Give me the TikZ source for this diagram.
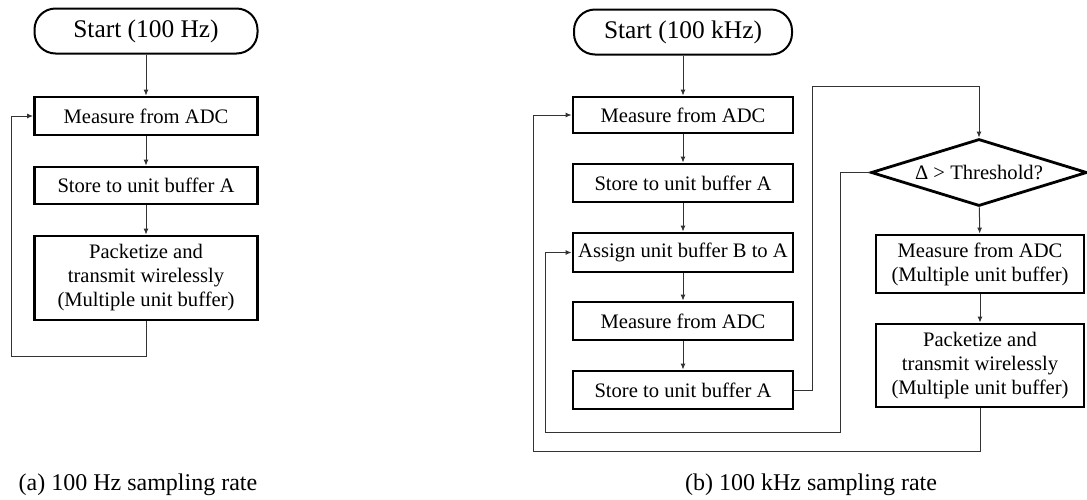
\documentclass[tikz,border=0pt]{standalone}
\usepackage{fontspec}
\setmainfont{Liberation Serif}
\usetikzlibrary{shapes.geometric,arrows.meta}

\tikzset{
  term/.style={draw, line width=2pt, rounded corners=21pt, minimum height=45pt,
    inner sep=0pt, font=\fontsize{25.4}{28}\selectfont},
  box/.style={draw, line width=2.8pt, minimum height=37pt, inner sep=0pt,
    align=center, font=\fontsize{20.6}{24}\selectfont},
  decide/.style={draw, diamond, line width=2.8pt, aspect=3.2, inner sep=0pt,
    minimum width=216pt, minimum height=67pt, font=\fontsize{20.6}{24}\selectfont},
  link/.style={black!80, line width=1pt},
  go/.style={link, -{Latex[length=6pt,width=5pt]}},
  capt/.style={inner sep=0pt, font=\fontsize{24}{28}\selectfont}
}

\begin{document}
\begin{tikzpicture}[x=1pt,y=-1pt]
  \useasboundingbox (0,0) rectangle (1087,499);
  % (a) 100 Hz
  \node[term, minimum width=223pt] (start1) at (146,31) {Start (100 Hz)};
  \node[box, minimum width=223pt, minimum height=38pt] (meas1) at (146,116) {Measure from ADC};
  \node[box, minimum width=223pt] (store1) at (146,185.5) {Store to unit buffer A};
  \node[box, minimum width=223pt, minimum height=84pt] (pack1) at (146,278)
    {Packetize and\\transmit wirelessly\\(Multiple unit buffer)};
  \coordinate (fbA) at (11,356);
  \draw[go] (start1) -- (meas1);
  \draw[go] (meas1) -- (store1);
  \draw[go] (store1) -- (pack1);
  \draw[go] (pack1.south) |- (fbA) |- (meas1.west);

  % (b) 100 kHz
  \node[term, minimum width=218pt] (start2) at (683,32) {Start (100 kHz)};
  \node[box, minimum width=220pt, minimum height=36pt] (meas2) at (683,115) {Measure from ADC};
  \node[box, minimum width=220pt, minimum height=38pt] (store2) at (683,183) {Store to unit buffer A};
  \node[box, minimum width=220pt, minimum height=39pt] (assign) at (683,252.5) {Assign unit buffer B to A};
  \node[box, minimum width=220pt, minimum height=38pt] (meas3) at (683,321) {Measure from ADC};
  \node[box, minimum width=220pt, minimum height=38pt] (store3) at (683,390) {Store to unit buffer A};
  \node[decide] (thr) at (979,172.5) {Δ > Threshold?};
  \node[box, minimum width=208pt, minimum height=58pt] (measM) at (980,264)
    {Measure from ADC\\(Multiple unit buffer)};
  \node[box, minimum width=208pt, minimum height=83pt] (packM) at (980,365.5)
    {Packetize and\\transmit wirelessly\\(Multiple unit buffer)};
  \coordinate (upB) at (812,86);
  \coordinate (noA) at (840,432);
  \coordinate (noB) at (545,432);
  \coordinate (backA) at (533,451);
  \draw[go] (start2) -- (meas2);
  \draw[go] (meas2) -- (store2);
  \draw[go] (store2) -- (assign);
  \draw[go] (assign) -- (meas3);
  \draw[go] (meas3) -- (store3);
  \draw[go] (store3.east) -| (upB) -| (thr.north);
  \draw[go] (thr) -- (measM);
  \draw[go] (measM) -- (packM);
  \draw[go] (thr.west) -| (noA) -- (noB) |- (assign.west);
  \draw[go] (packM.south) |- (backA) |- (meas2.west);

  % captions
  \node[capt] (capA) at (138,485) {(a) 100 Hz sampling rate};
  \node[capt] (capB) at (811,485) {(b) 100 kHz sampling rate};
\end{tikzpicture}
\end{document}
